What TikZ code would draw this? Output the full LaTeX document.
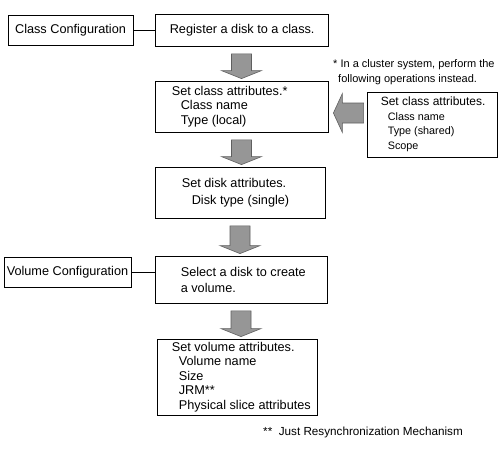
\documentclass[tikz,border=0pt]{standalone}
\usepackage{fontspec}
\setmainfont{Liberation Sans}
\usepackage{tikz}
\usetikzlibrary{positioning,calc}
\definecolor{arrowgray}{RGB}{150,150,150}
\definecolor{arrowedge}{RGB}{95,95,95}
\tikzstyle{box}=[draw,line width=0.8pt,inner sep=0pt,font=\fontsize{12.7}{14.5}\selectfont]
\tikzstyle{txt}=[align=left,inner sep=0pt,font=\fontsize{12.7}{14.5}\selectfont]
\tikzstyle{note}=[align=left,inner sep=0pt,font=\fontsize{11}{15}\selectfont]
\tikzstyle{blockarrow}=[fill=arrowgray,draw=arrowedge,line width=0.6pt]
\newcommand{\subfont}{\fontsize{10.8}{14}\selectfont}
% gray block arrow pointing down, from box #1 to box #2
\newcommand{\downblock}[2]{%
  \draw[blockarrow] let \p1=($(#1.south)+(0pt,-7.5pt)$),
      \p2=($(#1.south |- #2.north)+(0pt,2pt)$) in
    (\x1-10pt,\y1) -- (\x1+10pt,\y1) -- (\x1+10pt,\y2+8pt) -- (\x1+20pt,\y2+8pt)
    -- (\x2,\y2) -- (\x1-20pt,\y2+8pt) -- (\x1-10pt,\y2+8pt) -- cycle;}
% gray block arrow pointing left, from box #1 to box #2
\newcommand{\leftblock}[2]{%
  \draw[blockarrow] let \p1=($(#1.west)+(-3pt,0pt)$),
      \p2=($(#2.east)+(5pt,-6.5pt)$) in
    (\x1,\y2+10pt) -- (\x2+9pt,\y2+10pt) -- (\x2+9pt,\y2+19.5pt) -- (\x2,\y2)
    -- (\x2+9pt,\y2-19.5pt) -- (\x2+9pt,\y2-10pt) -- (\x1,\y2-10pt) -- cycle;}

\begin{document}
\begin{tikzpicture}[x=1pt,y=-1pt]
\useasboundingbox[fill=white] (0,0) rectangle (500,450);

% boxes
\node[box,minimum width=125pt,minimum height=30pt] (cls) at (70.5,30) {Class Configuration};
\node[box,minimum width=173pt,minimum height=32pt] (reg) at (241.5,30) {};
\node[box,minimum width=173pt,minimum height=51pt] (clsattr) at (241.5,106.5) {};
\node[box,minimum width=130pt,minimum height=65pt] (shared) at (432,124.5) {};
\node[box,minimum width=170pt,minimum height=51pt] (diskattr) at (240,192.5) {};
\node[box,minimum width=127pt,minimum height=30pt] (vol) at (67.5,272) {Volume Configuration};
\node[box,minimum width=172pt,minimum height=47pt] (seldisk) at (241,279.5) {};
\node[box,minimum width=160pt,minimum height=76pt] (volattr) at (237,377) {};

% texts
\node[txt,right=15pt of reg.west] (reg-t) {Register a disk to a class.};
\node[txt,right=17pt of clsattr.west] (clsattr-t) {Set class attributes.*\\
  \hspace*{9pt}Class name\\
  \hspace*{9pt}Type (local)};
\node[txt,right=14pt of shared.west,font=\fontsize{12}{14.5}\selectfont] (shared-t) {Set class attributes.\\
  {\subfont\hspace*{7pt}Class name}\\
  {\subfont\hspace*{7pt}Type (shared)}\\
  {\subfont\hspace*{7pt}Scope}};
\node[txt,right=27pt of diskattr.west] (diskattr-t) {Set disk attributes.\\[2pt]
  \hspace*{10pt}Disk type (single)};
\node[txt,right=26pt of seldisk.west] (seldisk-t) {Select a disk to create\\[1.5pt]
  a volume.};
\node[txt,right=15pt of volattr.west] (volattr-t) {Set volume attributes.\\
  \hspace*{7pt}Volume name\\
  \hspace*{7pt}Size\\
  \hspace*{7pt}JRM**\\
  \hspace*{7pt}Physical slice attributes};

% notes
\node[note,anchor=west] (note1) at (333,72.5) {* In a cluster system, perform the\\
  \hspace*{5pt}following operations instead.};
\node[note,anchor=west,font=\fontsize{11.7}{15}\selectfont] (note2) at (263,432) {**\ \ Just Resynchronization Mechanism};

% connectors
\draw[line width=0.8pt] (cls.east) -- (reg.west);
\draw[line width=0.8pt] (vol.east) -- (vol.east -| seldisk.west);
\downblock{reg}{clsattr}
\downblock{clsattr}{diskattr}
\downblock{diskattr}{seldisk}
\downblock{seldisk}{volattr}
\leftblock{shared}{clsattr}
\end{tikzpicture}
\end{document}
